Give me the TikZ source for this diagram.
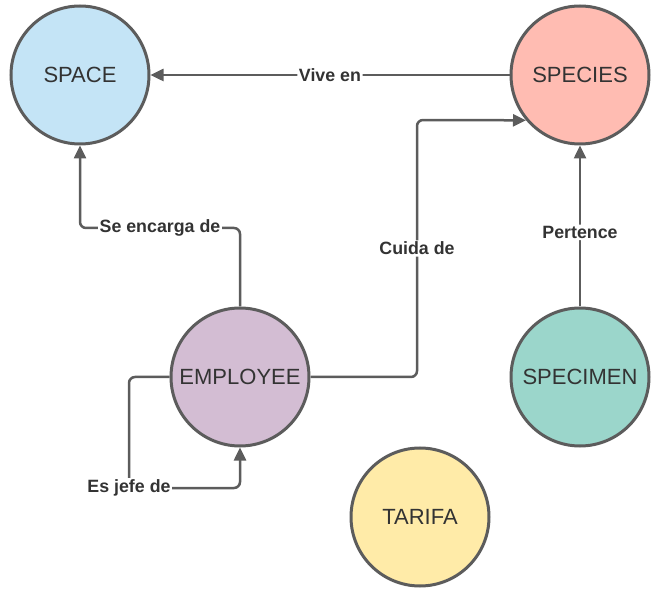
\documentclass[tikz,border=0pt]{standalone}
\usepackage{fontspec}
\setmainfont{Liberation Sans}
\usetikzlibrary{arrows.meta}
\definecolor{edge}{HTML}{5C5C5C}
\definecolor{txt}{HTML}{333333}
\definecolor{cspace}{HTML}{C4E4F6}
\definecolor{cspecies}{HTML}{FFBCB2}
\definecolor{cemp}{HTML}{D3BDD3}
\definecolor{cspec}{HTML}{9BD6CB}
\definecolor{ctar}{HTML}{FFEBA8}
\tikzset{
  ent/.style={circle, draw=edge, line width=3pt, minimum size=138pt, inner sep=0pt,
    text=txt, font=\fontsize{22}{24}\selectfont},
  conn/.style={draw=edge, line width=2.5pt, rounded corners=6pt},
  arr/.style={-{Triangle[length=13pt,width=12pt]}},
  lbl/.style={fill=white, inner sep=1.5pt, text=txt, font=\fontsize{17.8}{20}\selectfont\bfseries}
}
\begin{document}
\begin{tikzpicture}[x=1pt,y=1pt]
\useasboundingbox (0,0) rectangle (662,598);
\node[ent, fill=cspace] (space) at (80,523) {SPACE};
\node[ent, fill=cspecies] (species) at (580,523) {SPECIES};
\node[ent, fill=cemp] (emp) at (240,221) {EMPLOYEE};
\node[ent, fill=cspec] (specimen) at (580,221) {SPECIMEN};
\node[ent, fill=ctar] (tarifa) at (420,81) {TARIFA};
\coordinate (se) at (80,370);
\coordinate (cd) at (417,478);
\coordinate (ej) at (129,110);
% Vive en
\draw[conn, arr] (species.west) -- node[lbl, pos=0.5]{Vive en} (space.east);
% Pertence
\draw[conn, arr] (specimen.north) -- node[lbl, pos=0.46]{Pertence} (species.south);
% Se encarga de
\draw[conn, arr] (emp.north) |- node[lbl, pos=0.75]{Se encarga de} (se) -- (space.south);
% Cuida de
\draw[conn, arr] (emp.east) -| node[lbl, pos=0.75]{Cuida de} (cd) -- (species.220);
% Es jefe de
\draw[conn, arr] (emp.west) -| (ej) -| (emp.south);
\node[lbl] (ejl) at (ej) {Es jefe de};
\end{tikzpicture}
\end{document}
